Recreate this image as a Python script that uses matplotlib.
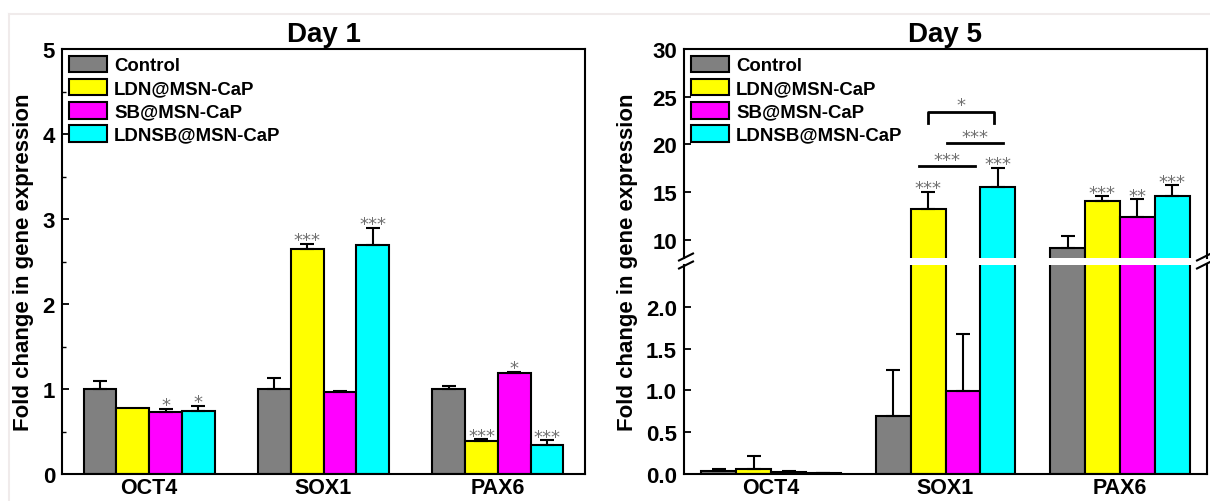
import matplotlib
matplotlib.use("Agg")
import matplotlib.pyplot as plt
import numpy as np
from matplotlib.lines import Line2D

plt.rcParams['font.family'] = ['Liberation Sans', 'DejaVu Sans']
plt.rcParams['font.weight'] = 'bold'

genes = ["OCT4", "SOX1", "PAX6"]
groups = ["Control", "LDN@MSN-CaP", "SB@MSN-CaP", "LDNSB@MSN-CaP"]
colors = ["#808080", "#ffff00", "#ff00ff", "#00ffff"]

# Day 1 (rows = groups, cols = genes)
day1_mean = [[1.00, 1.00, 1.00],
             [0.775, 2.645, 0.39],
             [0.73, 0.97, 1.19],
             [0.745, 2.695, 0.345]]
day1_err = [[0.09, 0.13, 0.04],
            [0.0, 0.06, 0.02],
            [0.04, 0.01, 0.015],
            [0.06, 0.20, 0.05]]
day1_stars = [["", "", ""],
              ["", "***", "***"],
              ["*", "", "*"],
              ["*", "***", "***"]]

# Day 5
day5_mean = [[0.04, 0.69, 9.1],
             [0.065, 13.27, 14.05],
             [0.02, 0.99, 12.43],
             [0.01, 15.56, 14.58]]
day5_err = [[0.015, 0.55, 1.35],
            [0.145, 1.76, 0.53],
            [0.01, 0.69, 1.8],
            [0.005, 1.98, 1.12]]
day5_stars = [["", "", ""],
              ["", "***", "***"],
              ["", "", "**"],
              ["", "***", "***"]]
# comparison brackets on Day 5: (x_start, x_end, y, leg_bottom, label)
day5_brackets = [(0.85, 1.17, 17.75, None, "***"),
                 (1.01, 1.33, 20.1, None, "***"),
                 (0.90, 1.28, 23.45, 22.2, "*")]

W, H = 1210, 502
fig = plt.figure(figsize=(W / 100, H / 100), dpi=100)

# faint outer frame
fig.add_artist(Line2D([9 / W, 1], [1 - 15 / H, 1 - 15 / H], transform=fig.transFigure,
                      color="#f0ebeb", lw=1.5))
fig.add_artist(Line2D([9 / W, 9 / W], [1 - 15 / H, 0], transform=fig.transFigure,
                      color="#f0ebeb", lw=1.5))

x = np.arange(len(genes))
star_color = "#707070"
TICK_FS = 16
CAT_FS = 15.5
LAB_FS = 16
TITLE_FS = 20
LEG_FS = 13.4


def style_axis(ax):
    ax.tick_params(axis='y', direction='in', length=5, width=1.3, labelsize=TICK_FS, pad=5)
    ax.tick_params(axis='y', which='minor', direction='in', length=3, width=1.0)
    ax.tick_params(axis='x', length=0, labelsize=CAT_FS, pad=2.5)
    for s in ax.spines.values():
        s.set_linewidth(1.5)
    for lab in ax.get_yticklabels() + ax.get_xticklabels():
        lab.set_fontweight('bold')


def draw_bars(ax, means, errs, width, stars=None, err_filter=None):
    offs = (np.arange(len(groups)) - 1.5) * width
    for i, g in enumerate(groups):
        xs = x + offs[i]
        ax.bar(xs, means[i], width, color=colors[i], edgecolor='black',
               linewidth=1.5, label=g, zorder=2)
        for j in range(len(genes)):
            top = means[i][j] + errs[i][j]
            if err_filter is not None and not err_filter(means[i][j], top):
                continue
            if errs[i][j] > 0.004:
                ax.errorbar(xs[j], means[i][j], yerr=[[0], [errs[i][j]]], fmt='none',
                            ecolor='black', elinewidth=1.5, capsize=5, capthick=1.5,
                            zorder=3)
            if stars is not None and stars[i][j]:
                ax.annotate(stars[i][j], (xs[j], top), xytext=(0, -1),
                            textcoords='offset points', ha='center', va='baseline',
                            fontsize=13, color=star_color, fontweight='normal',
                            family='DejaVu Sans')


def add_legend(ax):
    ax.legend(loc='upper left', frameon=False, handlelength=2.05,
              handleheight=1.0, labelspacing=0.24, handletextpad=0.4,
              borderaxespad=0.25, borderpad=0.1,
              prop={'weight': 'bold', 'size': LEG_FS})


# ---------------- Day 1 ----------------
ax1 = fig.add_axes([62 / W, 1 - 475 / H, (585 - 62) / W, (475 - 50) / H])
draw_bars(ax1, day1_mean, day1_err, 0.1875, stars=day1_stars)
ax1.set_xlim(-0.5, 2.5)
ax1.set_ylim(0, 5)
ax1.set_yticks(np.arange(0, 6, 1))
ax1.set_yticks(np.arange(0.5, 5, 1), minor=True)
ax1.set_xticks(x)
ax1.set_xticklabels(genes)
style_axis(ax1)
ax1.set_title("Day 1", fontsize=TITLE_FS, fontweight='bold', pad=6)
fig.text(24 / W, 1 - 262 / H, "Fold change in gene expression", rotation=90,
         ha='center', va='center', fontsize=LAB_FS, fontweight='bold')
add_legend(ax1)

# ---------------- Day 5 (broken axis) ----------------
L = 684 / W
Wd = (1207 - 684) / W
axu = fig.add_axes([L, 1 - 259 / H, Wd, (259 - 50) / H])
axl = fig.add_axes([L, 1 - 475 / H, Wd, (475 - 266) / H])

upper_lim = (8.1, 30)
lower_lim = (0, 2.5)
draw_bars(axu, day5_mean, day5_err, 0.2, stars=day5_stars,
          err_filter=lambda m, t: m > lower_lim[1])
draw_bars(axl, day5_mean, day5_err, 0.2, stars=None,
          err_filter=lambda m, t: m <= lower_lim[1])

axu.set_ylim(*upper_lim)
axl.set_ylim(*lower_lim)
for a in (axu, axl):
    a.set_xlim(-0.5, 2.5)
axu.set_yticks([10, 15, 20, 25, 30])
axl.set_yticks([0.0, 0.5, 1.0, 1.5, 2.0])
axl.set_yticklabels(["0.0", "0.5", "1.0", "1.5", "2.0"])
axu.set_xticks([])
axl.set_xticks(x)
axl.set_xticklabels(genes)
axu.spines['bottom'].set_visible(False)
axl.spines['top'].set_visible(False)
style_axis(axu)
style_axis(axl)
axu.set_title("Day 5", fontsize=TITLE_FS, fontweight='bold', pad=6)
add_legend(axu)

for (x0, x1, yb, leg, lab) in day5_brackets:
    if leg is None:
        axu.plot([x0, x1], [yb, yb], color='black', lw=2, zorder=4, clip_on=False)
    else:
        axu.plot([x0, x0, x1, x1], [leg, yb, yb, leg], color='black', lw=2, zorder=4,
                 clip_on=False)
    axu.annotate(lab, ((x0 + x1) / 2, yb), xytext=(0, 1), textcoords='offset points',
                 ha='center', va='baseline', fontsize=13, color=star_color,
                 fontweight='normal', family='DejaVu Sans')

fig.text(628 / W, 1 - 262 / H, "Fold change in gene expression", rotation=90,
         ha='center', va='center', fontsize=LAB_FS, fontweight='bold')

# break marks
for xc in (686, 1204):
    for yc in (258, 266):
        fig.add_artist(Line2D([(xc - 7) / W, (xc + 7) / W],
                              [1 - (yc + 3.5) / H, 1 - (yc - 3.5) / H],
                              transform=fig.transFigure, color='black', lw=1.5))

fig.savefig("out.png", dpi=100, facecolor='white')
